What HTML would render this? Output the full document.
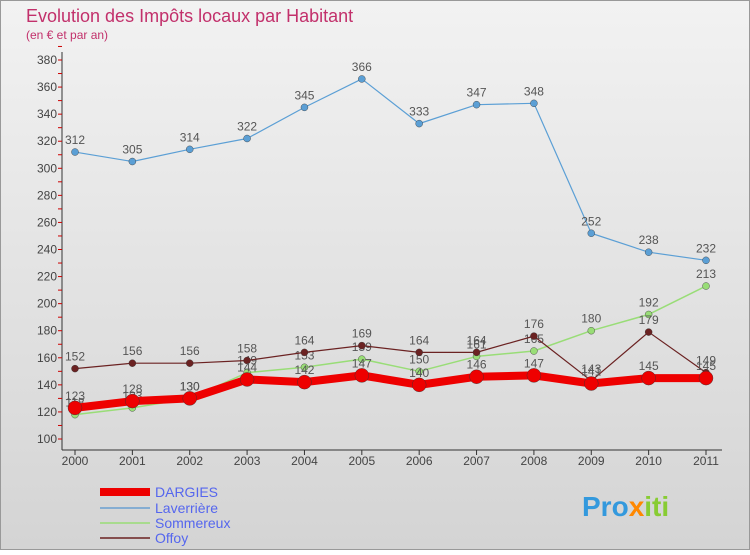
<!DOCTYPE html>
<html><head><meta charset="utf-8"><style>
body{margin:0;width:750px;height:550px;overflow:hidden;font-family:"Liberation Sans",sans-serif}
</style></head><body>
<svg id="c" width="750" height="550" xmlns="http://www.w3.org/2000/svg">
<defs><linearGradient id="bg" x1="0" y1="0" x2="0" y2="1"><stop offset="0" stop-color="#f2f2f2"/><stop offset="1" stop-color="#d4d4d4"/></linearGradient></defs>
<rect x="0.5" y="0.5" width="749" height="549" fill="url(#bg)" stroke="#999"/>
<text x="26" y="22" font-size="18" fill="#c2306b">Evolution des Impôts locaux par Habitant</text>
<text x="26" y="39" font-size="12" fill="#c2306b">(en € et par an)</text>
<g id="axes"></g><g id="series"></g>
<g>
<line x1="100" y1="492" x2="150" y2="492" stroke="#ee0000" stroke-width="8"/><text x="155" y="497" font-size="14" fill="#5566ee">DARGIES</text>
<line x1="100" y1="508" x2="150" y2="508" stroke="#6a9fd0" stroke-width="1.5"/><text x="155" y="513" font-size="14" fill="#5566ee">Laverrière</text>
<line x1="100" y1="523" x2="150" y2="523" stroke="#99dd77" stroke-width="1.5"/><text x="155" y="528" font-size="14" fill="#5566ee">Sommereux</text>
<line x1="100" y1="538" x2="150" y2="538" stroke="#6b2222" stroke-width="1.5"/><text x="155" y="543" font-size="14" fill="#5566ee">Offoy</text>
</g>
<text x="582" y="516" font-size="28" font-weight="bold" fill="#3399dd">Pro<tspan fill="#ff8800">x</tspan><tspan fill="#88cc33">iti</tspan></text>
</svg>
<script>
const years=["2000","2001","2002","2003","2004","2005","2006","2007","2008","2009","2010","2011"];
const yTicks=[100,120,140,160,180,200,220,240,260,280,300,320,340,360,380];
const dargies=[123,128,130,144,142,147,140,146,147,141,145,145];
const laverriere=[312,305,314,322,345,366,333,347,348,252,238,232];
const sommereux=[118,123,130,149,153,159,150,161,165,180,192,213];
const offoy=[152,156,156,158,164,169,164,164,176,143,179,149];
const NS="http://www.w3.org/2000/svg";
const X=i=>75+i*(631/11), Y=v=>439-(v-100)*(379/280);
function mk(t,a,p){const e=document.createElementNS(NS,t);for(const k in a)e.setAttribute(k,a[k]);p.appendChild(e);return e;}
const ax=document.getElementById('axes');
mk('line',{x1:62,y1:52,x2:62,y2:450,stroke:'#333'},ax);
mk('line',{x1:62,y1:450,x2:722,y2:450,stroke:'#333'},ax);
yTicks.forEach(v=>{const t=mk('text',{x:57,y:Y(v)+4,'font-size':12,fill:'#444','text-anchor':'end'},ax);t.textContent=v;


mk('line',{x1:58,y1:Y(v),x2:62,y2:Y(v),stroke:'#c00'},ax);mk('line',{x1:58,y1:Y(v+10),x2:62,y2:Y(v+10),stroke:'#c00'},ax);});
years.forEach((y,i)=>{mk('line',{x1:X(i),y1:450,x2:X(i),y2:455,stroke:'#333'},ax);
const t=mk('text',{x:X(i),y:465,'font-size':12,fill:'#444','text-anchor':'middle'},ax);t.textContent=y;

});
const sg=document.getElementById('series');
function draw(name,vals,color,w,r){const g=mk('g',{},sg);


mk('polyline',{points:vals.map((v,i)=>X(i)+','+Y(v)).join(' '),fill:'none',stroke:color,'stroke-width':w,'stroke-linejoin':'round'},g);
vals.forEach((v,i)=>{const c=mk('circle',{cx:X(i),cy:Y(v),r:r,fill:color,stroke:'#333','stroke-width':0.4},g);


const t=mk('text',{x:X(i),y:Y(v)-8,'font-size':12,fill:'#555','text-anchor':'middle'},g);t.textContent=v;});}
draw('laverriere',laverriere,'#5b9fd5',1.2,3.5);
draw('sommereux',sommereux,'#99dd77',1.5,3.5);
draw('offoy',offoy,'#6b2222',1.2,3.5);
draw('dargies',dargies,'#ee0000',8,7);
</script>
</body></html>
